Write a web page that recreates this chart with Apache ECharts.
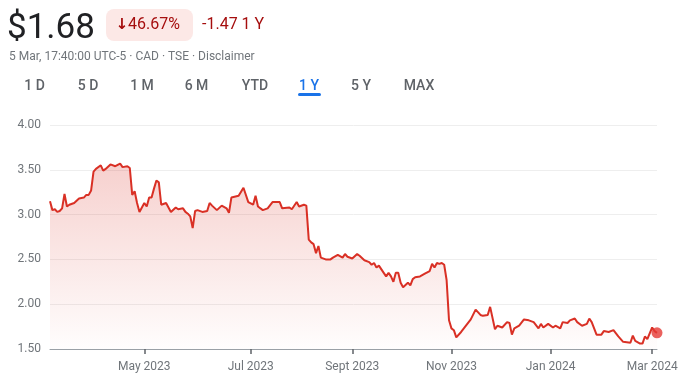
<!DOCTYPE html>
<html>
<head>
<meta charset="utf-8">
<script src="https://cdn.jsdelivr.net/npm/echarts@6/dist/echarts.min.js"></script>
<style>
html,body{margin:0;padding:0;background:#fff;}
#chart{width:688px;height:382px;}
</style>
</head>
<body>
<div id="chart"></div>
<script>
// Trading-day index (0 = 6 Mar 2023, 251 = 5 Mar 2024) and closing price (CAD)
const dayIdx = [0,1,2,3,4,5,6,7,8,10,12,14,15,16,17,18,19,21,22,23,25,27,29,30,32,33,34,35,36,37,39,40,41,42,43,44,45,46,48,50,52,53,55,56,57,58,59,60,61,63,65,66,67,69,71,73,74,75,78,80,82,84,85,86,88,90,92,95,96,99,100,102,103,105,106,107,108,109,110,111,112,114,116,117,119,121,122,123,125,127,128,130,132,133,134,135,136,138,139,140,141,142,143,144,145,146,148,149,150,151,153,155,157,158,159,160,161,162,163,164,165,166,167,168,170,172,174,176,178,179,181,182,184,185,187,189,190,191,192,194,196,198,200,202,203,204,206,208,209,211,212,214,215,217,218,220,222,223,224,226,228,229,231,233,235,237,240,241,242,244,245,246,247,249,250,251];
const price = [3.15,3.05,3.06,3.03,3.04,3.07,3.23,3.09,3.11,3.13,3.18,3.19,3.22,3.22,3.27,3.48,3.51,3.55,3.49,3.51,3.56,3.54,3.57,3.53,3.54,3.52,3.22,3.26,3.13,3.03,3.13,3.09,3.19,3.19,3.29,3.38,3.36,3.11,3.13,3.03,3.08,3.06,3.07,3.03,3.01,2.98,2.85,3.04,3.05,3.03,3.04,3.13,3.10,3.05,3.10,3.07,3.02,3.19,3.21,3.30,3.14,3.11,3.21,3.09,3.05,3.07,3.14,3.14,3.07,3.08,3.06,3.14,3.09,3.11,3.10,2.72,2.69,2.67,2.57,2.65,2.52,2.50,2.50,2.52,2.55,2.52,2.56,2.53,2.51,2.56,2.54,2.49,2.47,2.44,2.46,2.41,2.43,2.35,2.31,2.35,2.31,2.25,2.35,2.35,2.24,2.19,2.24,2.21,2.28,2.30,2.31,2.34,2.37,2.45,2.41,2.46,2.45,2.46,2.44,2.27,1.82,1.73,1.71,1.63,1.69,1.76,1.83,1.94,1.88,1.87,1.88,1.97,1.72,1.76,1.74,1.80,1.79,1.66,1.73,1.76,1.83,1.82,1.80,1.73,1.78,1.74,1.78,1.74,1.76,1.73,1.80,1.79,1.82,1.84,1.80,1.76,1.78,1.84,1.80,1.66,1.66,1.70,1.69,1.71,1.64,1.58,1.57,1.65,1.59,1.56,1.56,1.64,1.61,1.74,1.70,1.68];
// x-axis ticks: first trading day of the month
const tickIdx = [39,83,125,166,207,249];
const tickLabels = ['May 2023','Jul 2023','Sept 2023','Nov 2023','Jan 2024','Mar 2024'];
const yTicks = [1.5,2.0,2.5,3.0,3.5,4.0];
const rangeTabs = ['1 D','5 D','1 M','6 M','YTD','1 Y','5 Y','MAX'];
const headerPrice = '$1.68';
const headerArrow = '\u2193';
const headerChange = '46.67%';
const headerDelta = '-1.47 1 Y';
const headerInfo = '5 Mar, 17:40:00 UTC-5 \u00b7 CAD \u00b7 TSE \u00b7 Disclaimer';

const lineData = dayIdx.map((d,i)=>[d,price[i]]);
const last = lineData[lineData.length-1];
const FONT = 'Roboto, "Noto Sans", sans-serif';

const tabX = [34.5,88,142,196.5,255,309,361,419];
const graphics = [
  {type:'text', x:7, y:29, style:{text:headerPrice, font:'400 35px '+FONT, fill:'#202124', textVerticalAlign:'middle'}},
  {type:'rect', shape:{x:106,y:9,width:87,height:32,r:8}, style:{fill:'#fce8e6'}},
  {type:'text', x:122, y:25, style:{text:headerArrow, font:'700 15px "DejaVu Sans", sans-serif', fill:'#a50e0e', textAlign:'center', textVerticalAlign:'middle'}},
  {type:'text', x:128, y:25, style:{text:headerChange, font:'400 16px '+FONT, fill:'#a50e0e', textVerticalAlign:'middle'}},
  {type:'text', x:202, y:25, style:{text:headerDelta, font:'400 16px '+FONT, fill:'#a50e0e', textVerticalAlign:'middle'}},
  {type:'text', x:9, y:57, style:{text:headerInfo, font:'400 12px '+FONT, fill:'#70757a', textVerticalAlign:'middle'}},
  {type:'rect', shape:{x:298,y:93,width:23,height:3,r:1.5}, style:{fill:'#1a73e8'}}
];
rangeTabs.forEach((t,i)=>{
  graphics.push({type:'text', x:tabX[i], y:86, style:{text:t, font:'500 14px '+FONT, fill: t==='1 Y' ? '#1a73e8' : '#5f6368', textAlign:'center', textVerticalAlign:'middle'}});
});

const chart = echarts.init(document.getElementById('chart'), null, {renderer:'canvas'});
chart.setOption({
  animation:false,
  backgroundColor:'#ffffff',
  graphic: graphics,
  grid:{left:50, right:31, top:125, bottom:33},
  xAxis:{
    type:'value', min:0, max:251,
    axisLine:{show:true, lineStyle:{color:'#9aa0a6', width:1}},
    axisTick:{show:true, customValues:tickIdx, length:5, lineStyle:{color:'#5f6368', width:1.5}},
    axisLabel:{customValues:tickIdx, formatter:(v)=>tickLabels[tickIdx.indexOf(v)], color:'#70757a', fontSize:12, fontFamily:FONT, margin:12},
    splitLine:{show:false}
  },
  yAxis:{
    type:'value', min:yTicks[0], max:yTicks[yTicks.length-1], interval:0.5,
    axisLine:{show:false}, axisTick:{show:false},
    axisLabel:{formatter:(v)=>v.toFixed(2), color:'#70757a', fontSize:12, fontFamily:FONT, margin:9},
    splitLine:{show:true, lineStyle:{color:'#eeeeee', width:1}}
  },
  series:[
    {
      type:'line', data:lineData, showSymbol:false, symbol:'none',
      lineStyle:{color:'#d93025', width:2},
      areaStyle:{
        origin:'start',
        color:new echarts.graphic.LinearGradient(0,0,0,1,[
          {offset:0, color:'rgba(217,48,37,0.32)'},
          {offset:1, color:'rgba(217,48,37,0.01)'}
        ])
      },
      z:2
    },
    {
      type:'scatter', data:[last], symbol:'circle', symbolSize:11,
      itemStyle:{color:'#e53935'}, z:3
    }
  ]
});
</script>
</body>
</html>
